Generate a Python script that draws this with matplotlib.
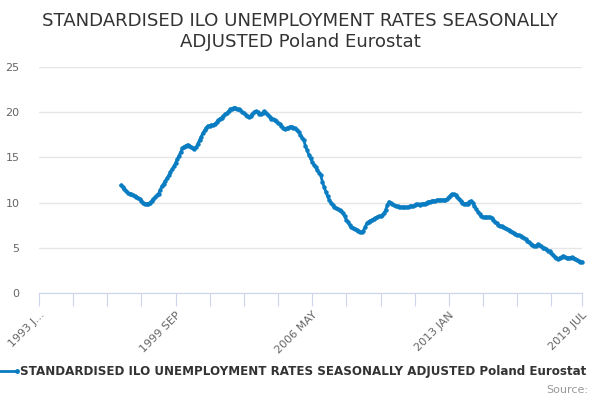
import numpy as np
import matplotlib
matplotlib.use('Agg')
from matplotlib import pyplot as plt
from matplotlib.lines import Line2D

plt.rcParams['font.family'] = ['DejaVu Sans']

# monthly values, 1997 JAN .. 2019 JUL
rates = [
    11.9, 11.7, 11.5, 11.3, 11.1, 11.0, 10.9, 10.8, 10.7, 10.6, 10.5, 10.4,   # 1997
    10.2, 10.0, 9.9, 9.85, 9.9, 10.0, 10.2, 10.4, 10.6, 10.8, 11.0, 11.4,    # 1998
    11.8, 12.1, 12.4, 12.7, 13.0, 13.4, 13.7, 14.0, 14.4, 14.8, 15.2, 15.6,  # 1999
    16.0, 16.2, 16.3, 16.4, 16.3, 16.2, 16.0, 15.9, 16.1, 16.5, 16.9, 17.3,  # 2000
    17.7, 18.0, 18.3, 18.5, 18.5, 18.6, 18.6, 18.7, 18.9, 19.1, 19.3, 19.4,  # 2001
    19.6, 19.8, 19.9, 20.1, 20.3, 20.4, 20.5, 20.5, 20.4, 20.3, 20.2, 20.0,  # 2002
    19.9, 19.7, 19.6, 19.5, 19.6, 19.8, 20.0, 20.1, 20.0, 19.85, 19.8, 19.95,  # 2003
    20.1, 19.9, 19.7, 19.5, 19.3, 19.2, 19.1, 19.0, 18.8, 18.7, 18.5, 18.3,  # 2004
    18.1, 18.2, 18.3, 18.4, 18.4, 18.3, 18.2, 18.0, 17.8, 17.5, 17.2, 16.9,  # 2005
    16.3, 15.8, 15.3, 14.9, 14.5, 14.2, 13.9, 13.6, 13.3, 13.0, 12.3, 11.7,  # 2006
    11.2, 10.7, 10.3, 10.0, 9.7, 9.5, 9.4, 9.3, 9.2, 9.1, 8.8, 8.5,          # 2007
    8.1, 7.8, 7.5, 7.3, 7.2, 7.1, 7.0, 6.9, 6.8, 6.7, 6.9, 7.3,              # 2008
    7.7, 7.9, 8.0, 8.1, 8.2, 8.3, 8.4, 8.5, 8.5, 8.6, 8.8, 9.2,              # 2009
    9.7, 10.1, 10.0, 9.8, 9.7, 9.6, 9.6, 9.5, 9.5, 9.5, 9.5, 9.5,            # 2010
    9.5, 9.6, 9.6, 9.6, 9.7, 9.8, 9.8, 9.7, 9.8, 9.9, 9.9, 10.0,             # 2011
    10.1, 10.1, 10.2, 10.2, 10.2, 10.3, 10.3, 10.3, 10.3, 10.3, 10.3, 10.4,  # 2012
    10.6, 10.8, 10.95, 10.9, 10.8, 10.6, 10.4, 10.2, 10.0, 9.9, 9.9, 9.9,    # 2013
    10.1, 10.2, 10.0, 9.6, 9.3, 9.0, 8.7, 8.5, 8.4, 8.4, 8.4, 8.4,           # 2014
    8.4, 8.3, 8.1, 7.9, 7.7, 7.5, 7.45, 7.4, 7.3, 7.2, 7.1, 7.0,             # 2015
    6.9, 6.8, 6.6, 6.5, 6.45, 6.4, 6.3, 6.2, 6.1, 5.95, 5.8, 5.6,            # 2016
    5.45, 5.3, 5.2, 5.2, 5.4, 5.3, 5.2, 5.0, 4.95, 4.85, 4.7, 4.6,           # 2017
    4.4, 4.2, 4.0, 3.85, 3.8, 3.9, 4.0, 4.1, 4.0, 3.85, 3.9, 3.9,            # 2018
    3.95, 3.9, 3.8, 3.7, 3.5, 3.45, 3.45,                                    # 2019
]
first_month = 48  # months after 1993 JAN
n_months = 318    # 1993 JAN .. 2019 JUL
tick_labels = {0: '1993 J...', 80: '1999 SEP', 160: '2006 MAY', 240: '2013 JAN', 318: '2019 JUL'}
series_name = 'STANDARDISED ILO UNEMPLOYMENT RATES SEASONALLY ADJUSTED Poland Eurostat'

color = '#0a7cc1'

fig = plt.figure(figsize=(6, 4), dpi=100)
ax = fig.add_axes([0.065, 0.2675, 0.905, 0.565])

x = np.arange(first_month, first_month + len(rates))
ax.plot(x, rates, color=color, lw=2, marker='o', ms=2.2, mec=color, clip_on=False)

ax.set_xlim(0, n_months)
ax.set_ylim(0, 25)
ax.set_yticks(range(0, 26, 5))
ax.grid(axis='y', color='#e6e6e6', lw=1)
ax.set_axisbelow(True)

minor = list(range(0, n_months, 20)) + [n_months]
ax.set_xticks(minor)
ax.set_xticklabels([tick_labels.get(m, '') for m in minor], rotation=45,
                   ha='right', rotation_mode='anchor', fontsize=8, color='#666666')
ax.tick_params(axis='x', length=9, color='#ccd6eb', pad=3)
ax.tick_params(axis='y', length=0, labelsize=8, labelcolor='#666666', pad=14)

for s in ['top', 'right', 'left']:
    ax.spines[s].set_visible(False)
ax.spines['bottom'].set_color('#ccd6eb')

fig.text(0.5, 0.97, 'STANDARDISED ILO UNEMPLOYMENT RATES SEASONALLY\nADJUSTED Poland Eurostat',
         ha='center', va='top', fontsize=13.1, color='#333333', linespacing=1.2)

fig.add_artist(Line2D([0.0, 0.028], [0.0725, 0.0725], transform=fig.transFigure,
                      color=color, lw=2, marker='o', ms=2.5, markevery=[1]))
fig.text(0.034, 0.0725, series_name, ha='left', va='center', fontsize=8.6,
         fontweight='bold', color='#333333')
fig.text(0.98, 0.025, 'Source:', ha='right', va='center', fontsize=8, color='#999999')

fig.savefig('out.png', dpi=100)
